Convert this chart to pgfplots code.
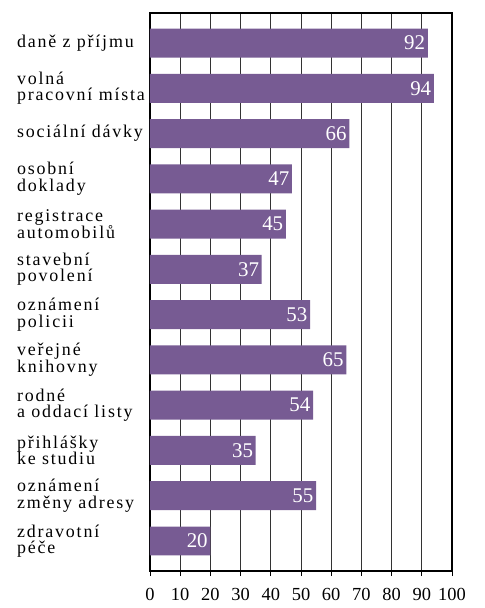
\documentclass[border=0pt]{standalone}
\usepackage{fontspec}
\setmainfont{Liberation Serif}[LetterSpace=10]
\newfontfamily\numfont{Liberation Serif}
\usepackage{pgfplots}
\pgfplotsset{compat=1.18}
\definecolor{barpurple}{HTML}{775B93}
\begin{document}
\begin{tikzpicture}
\begin{axis}[
  at={(0,0)}, anchor=south west,
  scale only axis, width=302bp, height=558bp,
  xbar, bar width=0.64,
  xmin=0, xmax=100, ymin=-0.663, ymax=11.663, y dir=reverse,
  xtick={0,10,...,100}, xtick pos=bottom, tick align=outside,
  major tick length=5bp,
  ytick={0,...,11}, ytick style={draw=none},
  yticklabels={{daně z příjmu},{volná\\pracovní místa},{sociální dávky},
    {osobní\\doklady},{registrace\\automobilů},{stavební\\povolení},
    {oznámení\\policii},{veřejné\\knihovny},{rodné\\a oddací listy},
    {přihlášky\\ke studiu},{oznámení\\změny adresy},{zdravotní\\péče}},
  yticklabel style={anchor=west, align=left, xshift=-128bp, inner sep=0pt,
    font=\fontsize{18}{16.5}\selectfont},
  xticklabel style={font=\numfont\fontsize{18.5}{18.5}\selectfont,
    inner sep=1bp, yshift=-11bp},
  /pgf/number format/assume math mode=true,
  xmajorgrids, major grid style={black!80, line width=0.8pt},
  axis line style={line width=1.5pt},
  tick style={black, line width=1pt},
  point meta=x,
  nodes near coords,
  nodes near coords style={anchor=east, text=white, inner sep=2.5bp,
    font=\numfont\fontsize{21}{21}\selectfont},
]
\addplot[fill=barpurple, draw=none] coordinates {
  (92,0) (94,1) (66,2) (47,3) (45,4) (37,5)
  (53,6) (65,7) (54,8) (35,9) (55,10) (20,11)
};
\end{axis}
\pgfresetboundingbox
\path[use as bounding box] (-150bp,-37bp) rectangle (335bp,571bp);
\end{tikzpicture}
\end{document}
